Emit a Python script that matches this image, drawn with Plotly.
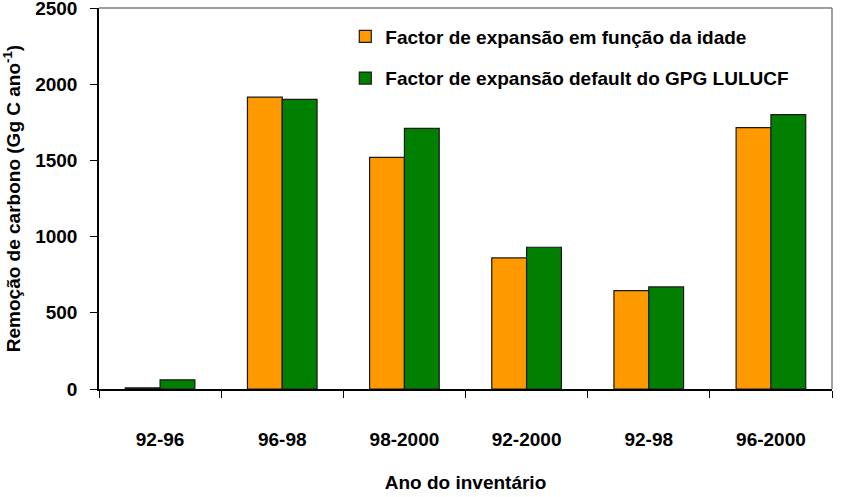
import plotly.graph_objects as go

categories = ["92-96", "96-98", "98-2000", "92-2000", "92-98", "96-2000"]
idade_values = [8, 1915, 1520, 860, 645, 1715]
default_values = [60, 1900, 1710, 930, 670, 1800]
series_names = ["Factor de expansão em função da idade",
                "Factor de expansão default do GPG LULUCF"]
y_ticks = [0, 500, 1000, 1500, 2000, 2500]

FONT = "Liberation Sans"

fig = go.Figure()
fig.add_trace(go.Bar(x=categories, y=idade_values, name=series_names[0],
                     legendgroup="a",
                     marker=dict(color="#FF9900", line=dict(color="#1a1a1a", width=1.2))))
fig.add_trace(go.Bar(x=categories, y=default_values, name=series_names[1],
                     legendgroup="b",
                     marker=dict(color="#007F00", line=dict(color="#1a1a1a", width=1.2))))

fig.update_layout(
    width=841, height=497,
    margin=dict(l=99, r=9, t=8, b=108),
    paper_bgcolor="white", plot_bgcolor="white",
    font=dict(family=FONT, size=19, color="black", weight="bold"),
    barmode="group", bargap=0.43, bargroupgap=0,
    showlegend=True,
    legend=dict(x=0.336, y=0.975, xanchor="left", yanchor="top",
                bgcolor="rgba(0,0,0,0)", borderwidth=0,
                tracegroupgap=14,
                font=dict(family=FONT, size=19, color="black", weight="bold")),
    xaxis=dict(
        type="category",
        showline=True, linecolor="black", linewidth=1.5,
        ticks="outside", tickson="boundaries", ticklen=7, tickwidth=1.2, tickcolor="black",
        ticklabelstandoff=32,
        showgrid=False, zeroline=False,
        tickfont=dict(family=FONT, size=19, color="black", weight="bold"),
        title=dict(text="Ano do inventário", standoff=27,
                   font=dict(family=FONT, size=19, color="black", weight="bold")),
        automargin=False,
    ),
    yaxis=dict(
        range=[0, 2500], tickvals=y_ticks,
        showline=True, linecolor="black", linewidth=1.5,
        ticks="outside", ticklen=7, tickwidth=1.2, tickcolor="black",
        ticklabelstandoff=9, ticklabeloverflow="allow",
        showgrid=False, zeroline=False,
        tickfont=dict(family=FONT, size=19, color="black", weight="bold"),
        title=dict(text="Remoção de carbono (Gg C ano<sup>-1</sup>)", standoff=10,
                   font=dict(family=FONT, size=19, color="black", weight="bold")),
        automargin=False,
    ),
    shapes=[
        dict(type="line", xref="paper", yref="paper", x0=0, x1=1, y0=1, y1=1,
             line=dict(color="#808080", width=1.5)),
        dict(type="line", xref="paper", yref="paper", x0=1, x1=1, y0=0, y1=1,
             line=dict(color="#808080", width=1.5)),
    ],
)

fig.write_html("out.html")
